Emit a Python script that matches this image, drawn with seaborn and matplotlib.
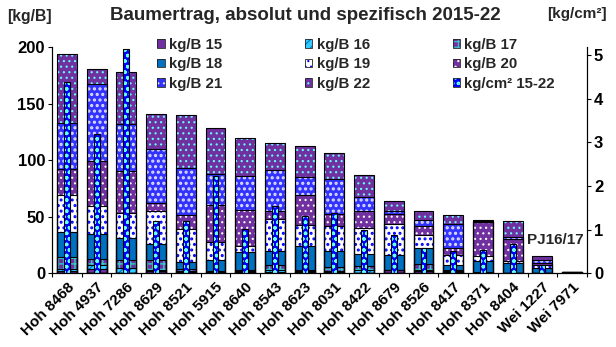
import numpy as np
import pandas as pd
import matplotlib
matplotlib.use("Agg")
import matplotlib.pyplot as plt
import seaborn as sns
from matplotlib.patches import Patch, Rectangle
from matplotlib.legend_handler import HandlerTuple

# ---------------- data ----------------
categories = ["Hoh 8468", "Hoh 4937", "Hoh 7286", "Hoh 8629", "Hoh 8521", "Hoh 5915",
              "Hoh 8640", "Hoh 8543", "Hoh 8623", "Hoh 8031", "Hoh 8422", "Hoh 8679",
              "Hoh 8526", "Hoh 8417", "Hoh 8371", "Hoh 8404", "Wei 1227", "Wei 7971"]

kgB_15 = [2.2, 4.0, 0.7, 2.0, 1.0, 0.6, 1.2, 1.5, 1.5, 1.0, 0.5, 3.0, 1.8, 1.5, 0.3, 0.3, 0.1, 1.5]
kgB_16 = [2.0, 3.5, 4.0, 1.3, 0.7, 0.4, 0.6, 1.2, 0.5, 0.8, 2.8, 0.0, 1.5, 0.5, 0.2, 0.2, 0.1, 0.0]
kgB_17 = [10.5, 4.9, 6.8, 8.2, 2.4, 0.8, 1.5, 5.0, 0.7, 3.6, 3.5, 0.2, 4.5, 0.7, 0.3, 0.2, 0.1, 0.0]
kgB_18 = [21.9, 22.7, 20.1, 14.2, 5.9, 10.3, 15.6, 11.8, 21.2, 14.6, 10.6, 12.7, 14.9, 4.4, 10.4, 8.0, 4.8, 0.0]
kgB_19 = [33.0, 24.2, 22.1, 29.5, 29.5, 15.6, 5.3, 28.9, 19.2, 22.0, 23.0, 27.3, 11.5, 9.4, 4.0, 2.1, 2.5, 0.0]
kgB_20 = [22.4, 39.8, 36.6, 6.5, 11.8, 32.5, 32.1, 6.5, 26.5, 10.8, 14.7, 9.4, 7.5, 5.9, 29.8, 19.9, 1.5, 0.0]
kgB_21 = [40.5, 67.9, 41.3, 47.8, 41.9, 28.0, 29.5, 36.3, 15.6, 30.1, 11.9, 2.4, 5.8, 21.6, 1.2, 1.4, 3.0, 0.0]
kgB_22 = [61.3, 13.2, 46.0, 30.9, 46.6, 39.8, 33.4, 23.6, 27.5, 23.0, 19.7, 8.5, 7.2, 7.9, 1.3, 14.2, 2.9, 0.0]
kgcm2_15_22 = [4.37, 3.18, 5.13, 1.19, 1.20, 2.22, 1.02, 1.54, 1.31, 1.38, 1.00, 0.87, 0.59, 0.50,
               0.53, 0.67, 0.19, 0.0]

series_labels = ["kg/B 15", "kg/B 16", "kg/B 17", "kg/B 18", "kg/B 19", "kg/B 20", "kg/B 21", "kg/B 22"]
series_values = [kgB_15, kgB_16, kgB_17, kgB_18, kgB_19, kgB_20, kgB_21, kgB_22]
narrow_label = "kg/cm² 15-22"

# facecolor, hatch, hatchcolor, hatch linewidth
styles = [
    ("#7030A0", None, "#7030A0", 0.6),
    ("#33CCFF", "////", "#0070C0", 0.8),
    ("#7030A0", "+++", "#33CCCC", 1.0),
    ("#0070C0", None, "#0070C0", 0.6),
    ("#FFFFFF", "...", "#0000FF", 1.4),
    ("#7030A0", "...", "#FFFFFF", 0.8),
    ("#3333FF", "...", "#E0E0FF", 1.5),
    ("#7030A0", "...", "#66FFFF", 0.8),
]
narrow_style = ("#0000FF", "ooo", "#66FFFF", 1.0)

# ---------------- style ----------------
sns.set_theme(style="ticks")
plt.rcParams["font.family"] = ["Liberation Sans", "DejaVu Sans"]
plt.rcParams["font.weight"] = "bold"
plt.rcParams["hatch.linewidth"] = 0.8


def style_patch(p, face, hatch, hc, hlw):
    p.set_facecolor(face)
    p.set_edgecolor(hc)
    p.set_linewidth(0)
    if hatch:
        p.set_hatch(hatch)
        if hasattr(p, "set_hatch_linewidth"):
            p.set_hatch_linewidth(hlw)
    p.set_zorder(2)


fig = plt.figure(figsize=(6.16, 3.47), dpi=100)
fig.patch.set_facecolor("white")
ax = fig.add_axes([52 / 616, 1 - 273.3 / 347, 535 / 616, (273.3 - 47) / 347])
ax2 = ax.twinx()

df = pd.DataFrame({"cat": categories})
for lab, vals in zip(series_labels, series_values):
    df[lab] = vals
df[narrow_label] = kgcm2_15_22
cum = df[series_labels].cumsum(axis=1)

EDGE_LW = 0.8
fill_patches = []
for i in reversed(range(len(series_labels))):
    n0 = len(ax.patches)
    sns.barplot(data=df, x="cat", y=cum[series_labels[i]].values, order=categories, ax=ax,
                color=styles[i][0], width=0.67, saturation=1, errorbar=None)
    for p in ax.patches[n0:]:
        style_patch(p, *styles[i])
        fill_patches.append(p)
for p in fill_patches:
    ax.add_patch(Rectangle(p.get_xy(), p.get_width(), p.get_height(), fill=False,
                           edgecolor="black", linewidth=EDGE_LW, zorder=3))

# narrow bars on secondary axis
n0 = len(ax2.patches)
sns.barplot(data=df, x="cat", y=narrow_label, order=categories, ax=ax2,
            color=narrow_style[0], width=0.2, saturation=1, errorbar=None)
for p in list(ax2.patches[n0:]):
    style_patch(p, *narrow_style)
    if p.get_height() > 0:
        ax2.add_patch(Rectangle(p.get_xy(), p.get_width(), p.get_height(), fill=False,
                                edgecolor="black", linewidth=EDGE_LW, zorder=3))

# axes
ax.set_xlim(-0.5, len(categories) - 0.5)
ax.set_ylim(0, 200)
ax2.set_ylim(0, 5.18)
ax.set_yticks([0, 50, 100, 150, 200])
ax2.set_yticks([0, 1, 2, 3, 4, 5])
for a in (ax, ax2):
    a.set_xlabel("")
    a.set_ylabel("")
    a.spines["top"].set_visible(False)
    for s in a.spines.values():
        s.set_linewidth(0.8)
        s.set_color("black")
ax2.patch.set_visible(False)
ax.patch.set_facecolor("white")

ax.set_xticks(np.arange(len(categories)))
ax.set_xticklabels(categories, rotation=45, ha="right", rotation_mode="anchor")
ax.set_xticks(np.arange(-0.5, len(categories), 1), minor=True)
ax.tick_params(axis="x", which="major", length=0, pad=5, labelsize=11, colors="black")
ax.tick_params(axis="x", which="minor", length=3, width=0.8, direction="out", color="black")
ax.tick_params(axis="y", length=3, width=0.8, direction="out", pad=2, labelsize=12, colors="black")
ax2.tick_params(axis="y", length=3, width=0.8, direction="out", pad=2, labelsize=12, colors="black")
for lbl in ax.get_xticklabels() + ax.get_yticklabels() + ax2.get_yticklabels():
    lbl.set_fontweight("bold")


# legend (row-major order in a 3-column layout)
def handle(face, hatch, hc, hlw):
    h = Patch(facecolor=face, hatch=hatch, edgecolor=hc, linewidth=0)
    if hatch and hasattr(h, "set_hatch_linewidth"):
        h.set_hatch_linewidth(hlw)
    return (h, Patch(facecolor="none", edgecolor="#222222", linewidth=0.6))


all_labels = series_labels + [narrow_label]
all_styles = styles + [narrow_style]
order = [0, 3, 6, 1, 4, 7, 2, 5, 8]
handles = [handle(*all_styles[k]) for k in order]
labels = [all_labels[k] for k in order]
fig.legend(handles, labels, ncol=3, loc="upper left", bbox_to_anchor=(157 / 616, 1 - 38 / 347),
           frameon=False, borderpad=0, borderaxespad=0, handlelength=0.5, handleheight=0.5,
           handletextpad=0.3, columnspacing=5.5, labelspacing=0.36,
           prop={"size": 10.8, "weight": "bold"},
           handler_map={tuple: HandlerTuple(ndivide=1)})

# texts
fig.text(305 / 616, 1 - 16 / 347, "Baumertrag, absolut und spezifisch 2015-22",
         ha="center", va="center", fontsize=13.5, fontweight="bold")
fig.text(7 / 616, 1 - 16 / 347, "[kg/B]", ha="left", va="center", fontsize=11.3, fontweight="bold")
fig.text(607 / 616, 1 - 14 / 347, "[kg/cm²]", ha="right", va="center", fontsize=11, fontweight="bold")
fig.text(555 / 616, 1 - 240 / 347, "PJ16/17", ha="center", va="center", fontsize=11, fontweight="bold")

fig.savefig("out.png", dpi=100, facecolor="white")
